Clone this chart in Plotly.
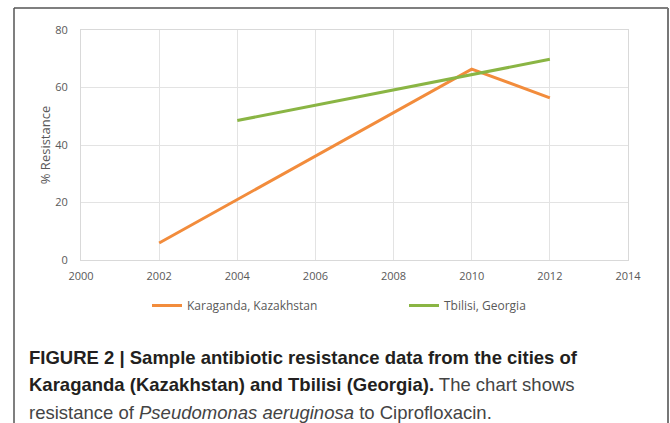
import plotly.graph_objects as go

# Resistance (%) of Pseudomonas aeruginosa to Ciprofloxacin
karaganda_years = [2002, 2010, 2012]
karaganda_values = [5.9, 66.4, 56.4]
tbilisi_years = [2004, 2012]
tbilisi_values = [48.5, 69.8]

x_ticks = [2000, 2002, 2004, 2006, 2008, 2010, 2012, 2014]
y_ticks = [0, 20, 40, 60, 80]

W, H = 670, 423
ui_family = "Open Sans, Lato, sans-serif"
tick_font = dict(family=ui_family, size=11, color="#595959")

fig = go.Figure()
fig.add_trace(go.Scatter(
    x=karaganda_years, y=karaganda_values, mode="lines",
    name="Karaganda, Kazakhstan",
    line=dict(color="#F28C3C", width=3),
))
fig.add_trace(go.Scatter(
    x=tbilisi_years, y=tbilisi_values, mode="lines",
    name="Tbilisi, Georgia",
    line=dict(color="#8AB544", width=3),
))

fig.update_layout(
    width=W, height=H,
    margin=dict(l=0, r=0, t=0, b=0, autoexpand=False),
    paper_bgcolor="white", plot_bgcolor="white",
    showlegend=True,
    legend=dict(
        orientation="h", x=147 / W, y=1 - 291 / H, xanchor="left", yanchor="top",
        entrywidth=212, entrywidthmode="pixels",
        font=dict(family=ui_family, size=12, color="#595959"),
        itemwidth=30, bgcolor="rgba(0,0,0,0)",
    ),
    xaxis=dict(
        domain=[81 / W, 628 / W], range=[2000, 2014], automargin=False,
        tickvals=x_ticks, ticktext=[str(v) for v in x_ticks],
        showgrid=True, gridcolor="#E3E3E3", gridwidth=1,
        zeroline=False, showline=True, linecolor="#D9D9D9", mirror=True,
        ticks="", tickfont=tick_font, ticklabelstandoff=6,
    ),
    yaxis=dict(
        domain=[1 - 260 / H, 1 - 30 / H], range=[0, 80], automargin=False,
        tickvals=y_ticks, ticktext=[str(v) for v in y_ticks],
        showgrid=True, gridcolor="#E3E3E3", gridwidth=1,
        zeroline=False, showline=True, linecolor="#D9D9D9", mirror=True,
        ticks="", tickfont=tick_font, ticklabelstandoff=10,
        title=dict(text="% Resistance", standoff=1,
                   font=dict(family=ui_family, size=13, color="#595959")),
    ),
)

# frame around the chart and caption
fig.add_shape(type="line", xref="paper", yref="paper",
              x0=14 / W, x1=14 / W, y0=0, y1=1 - 8 / H,
              line=dict(color="#555555", width=1.5))
fig.add_shape(type="line", xref="paper", yref="paper",
              x0=14 / W, x1=668 / W, y0=1 - 8 / H, y1=1 - 8 / H,
              line=dict(color="#555555", width=1.5))
fig.add_shape(type="line", xref="paper", yref="paper",
              x0=668 / W, x1=668 / W, y0=0, y1=1 - 8 / H,
              line=dict(color="#777777", width=2))

cap_font = dict(family="Liberation Sans Narrow, Liberation Sans, Arial, sans-serif",
                size=18.5, color="#231F20")
caption_lines = [
    "<b>FIGURE 2 | Sample antibiotic resistance data from the cities of</b>",
    "<b>Karaganda (Kazakhstan) and Tbilisi (Georgia).</b>"
    "<span style='color:#444'> The chart shows</span>",
    "<span style='color:#444'>resistance of <i>Pseudomonas aeruginosa</i> to Ciprofloxacin.</span>",
]
for i, line in enumerate(caption_lines):
    fig.add_annotation(
        xref="paper", yref="paper", x=27 / W, y=1 - (357 + 27.8 * i) / H,
        xanchor="left", yanchor="middle", showarrow=False,
        text=line, font=cap_font, align="left",
    )

fig.write_html("out.html")
